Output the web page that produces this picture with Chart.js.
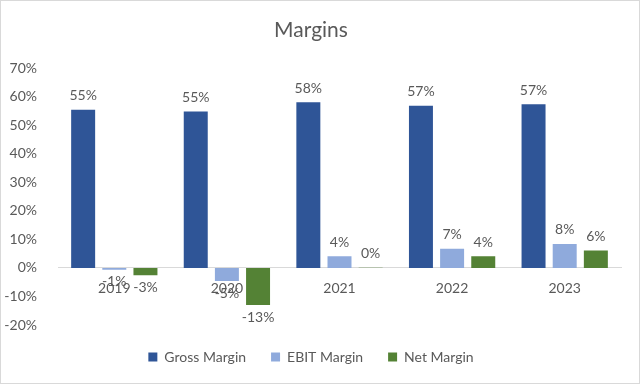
<!DOCTYPE html>
<html>
<head>
<meta charset="utf-8">
<script src="https://cdn.jsdelivr.net/npm/chart.js@4/dist/chart.umd.min.js"></script>
<style>
  body { margin: 0; background: #fff; }
  #wrap { width: 640px; height: 384px; box-sizing: border-box; border: 1px solid #d9d9d9; }
</style>
</head>
<body>
<div id="wrap"><canvas id="myChart" width="638" height="382"></canvas></div>
<script>
const years = ["2019", "2020", "2021", "2022", "2023"];
const grossMargin = [55.4, 54.8, 58.1, 56.8, 57.4];
const ebitMargin = [-0.6, -4.6, 4.1, 6.7, 8.4];
const netMargin = [-2.6, -13.0, 0.1, 4.1, 6.1];
const yTicks = [-20, -10, 0, 10, 20, 30, 40, 50, 60, 70];

const textColor = "#595959";
const fontFamily = "Lato, 'Liberation Sans', sans-serif";

// draws the value labels like excel "outside end"
const barLabels = {
  id: "barLabels",
  afterDatasetsDraw(chart) {
    const ctx = chart.ctx;
    ctx.save();
    ctx.font = "14px " + fontFamily;
    ctx.fillStyle = textColor;
    ctx.textAlign = "center";
    chart.data.datasets.forEach(function (ds, i) {
      const meta = chart.getDatasetMeta(i);
      meta.data.forEach(function (bar, j) {
        const v = ds.data[j];
        const txt = Math.round(v) + "%";
        if (v >= 0) {
          ctx.textBaseline = "bottom";
          ctx.fillText(txt, bar.x, bar.y - 7);
        } else {
          ctx.textBaseline = "top";
          ctx.fillText(txt, bar.x, bar.y + 5);
        }
      });
    });
    ctx.restore();
  }
};

const ctx = document.getElementById("myChart");

new Chart(ctx, {
  type: "bar",
  data: {
    labels: years,
    datasets: [
      { label: "Gross Margin", data: grossMargin, backgroundColor: "#2F5597" },
      { label: "EBIT Margin", data: ebitMargin, backgroundColor: "#8FAADC" },
      { label: "Net Margin", data: netMargin, backgroundColor: "#548235" },
    ],
  },
  plugins: [barLabels],
  options: {
    responsive: false,
    animation: false,
    categoryPercentage: 0.83,
    barPercentage: 0.77,
    layout: { padding: { left: 0, right: 18, top: 0, bottom: 9 } },
    plugins: {
      title: {
        display: true,
        text: "Margins",
        color: textColor,
        font: { family: fontFamily, size: 21, weight: "normal" },
        padding: { top: 17, bottom: 25 },
      },
      legend: {
        position: "bottom",
        labels: {
          color: textColor,
          font: { family: fontFamily, size: 14 },
          boxWidth: 9,
          boxHeight: 9,
          padding: 25,
        },
      },
      tooltip: { enabled: false },
    },
    scales: {
      x: {
        position: { y: 0 },
        grid: { display: false },
        border: { color: "#d9d9d9", width: 1 },
        ticks: { color: textColor, font: { family: fontFamily, size: 14 }, padding: 4 },
      },
      y: {
        min: yTicks[0],
        max: yTicks[yTicks.length - 1],
        afterBuildTicks: function (axis) {
          axis.ticks = yTicks.map(function (v) { return { value: v }; });
        },
        afterFit: function (axis) { axis.width = 57; },
        grid: { display: false },
        border: { display: false },
        ticks: {
          color: textColor,
          font: { family: fontFamily, size: 14 },
          padding: 13,
          callback: function (v) { return v + "%"; },
        },
      },
    },
  },
});
</script>
</body>
</html>
